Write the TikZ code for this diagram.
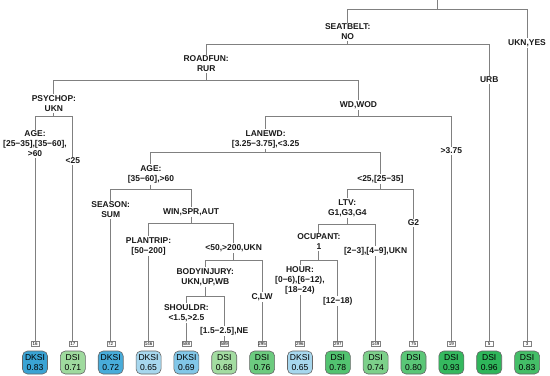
\documentclass[tikz,border=0pt]{standalone}
\usepackage{fontspec}
\setmainfont{Liberation Sans}
\definecolor{kA}{HTML}{3AA3D4}
\definecolor{kB}{HTML}{48ACDA}
\definecolor{kC}{HTML}{82C7E8}
\definecolor{kD}{HTML}{A7D7EE}
\definecolor{g68}{HTML}{A3DCA1}
\definecolor{g71}{HTML}{9FDA9E}
\definecolor{g74}{HTML}{7DD08A}
\definecolor{g76}{HTML}{6CCB7F}
\definecolor{g78}{HTML}{52C370}
\definecolor{g80}{HTML}{5AC677}
\definecolor{g83}{HTML}{44BE67}
\definecolor{g93}{HTML}{35B95F}
\definecolor{g96}{HTML}{2EB65A}
\begin{document}
\begin{tikzpicture}[x=1bp,y=-1bp,
  br/.style={draw=black!50, line width=0.9bp},
  lbl/.style={font=\fontsize{8.5}{10}\selectfont\bfseries, align=center, inner sep=1.2bp, text=black!90},
  num/.style={draw=gray, fill=white, font=\fontsize{4.5}{5}\selectfont, inner sep=0.6bp, minimum height=5.5bp, minimum width=8bp},
  leafbox/.style={draw=black!60, rounded corners=5bp, minimum width=25bp, minimum height=23bp, align=center, inner sep=0pt, font=\fontsize{8.6}{10.5}\selectfont, line width=0.6bp}]
\useasboundingbox (0,0) rectangle (550,375);

% internal split coordinates
\coordinate (top) at (437.4,0);
\coordinate (c1) at (437.4,9);   \coordinate (1l) at (347.7,9);   \coordinate (1r) at (527.05,9);
\coordinate (c2) at (347.7,44);  \coordinate (2l) at (206.2,44);  \coordinate (2r) at (489.2,44);
\coordinate (c4) at (206.2,80);  \coordinate (4l) at (53.9,80);   \coordinate (4r) at (358.5,80);
\coordinate (c8) at (53.9,116);  \coordinate (8l) at (35,116);    \coordinate (8r) at (72.85,116);
\coordinate (c9) at (358.5,116); \coordinate (9l) at (265.6,116); \coordinate (9r) at (451.35,116);
\coordinate (c18) at (265.6,152); \coordinate (18l) at (150.9,152); \coordinate (18r) at (380.4,152);
\coordinate (c36) at (150.9,189); \coordinate (36l) at (110.7,189); \coordinate (36r) at (191.1,189);
\coordinate (c37) at (380.4,189); \coordinate (37l) at (347.3,189); \coordinate (37r) at (413.5,189);
\coordinate (c73) at (191.1,223); \coordinate (73l) at (148.55,223); \coordinate (73r) at (233.7,223);
\coordinate (c74) at (347.3,224); \coordinate (74l) at (318.9,224); \coordinate (74r) at (375.65,224);
\coordinate (c147) at (233.7,260); \coordinate (147l) at (205.3,260); \coordinate (147r) at (262.1,260);
\coordinate (c148) at (318.9,260); \coordinate (148l) at (299.95,260); \coordinate (148r) at (337.8,260);
\coordinate (c294) at (205.3,296); \coordinate (294l) at (186.4,296); \coordinate (294r) at (224.25,296);

% branch labels
\node[lbl] (l2) at (347.7,32) {SEATBELT:\\NO};
\node[lbl] (l3) at (527.05,43) {UKN,YES};
\node[lbl] (l4) at (206.2,64) {ROADFUN:\\RUR};
\node[lbl] (l5) at (489.2,80) {URB};
\node[lbl] (l8) at (53.9,103.5) {PSYCHOP:\\UKN};
\node[lbl] (l9) at (358.5,105) {WD,WOD};
\node[lbl] (l16) at (35,144) {AGE:\\{}[25−35],[35−60],\\{}>60};
\node[lbl] (l17) at (72.85,161) {<25};
\node[lbl] (l18) at (265.6,139) {LANEWD:\\{}[3.25−3.75],<3.25};
\node[lbl] (l19) at (451.35,151) {>3.75};
\node[lbl] (l36) at (150.9,174.5) {AGE:\\{}[35−60],>60};
\node[lbl] (l37) at (380.4,179) {<25,[25−35]};
\node[lbl] (l72) at (110.7,210) {SEASON:\\SUM};
\node[lbl] (l73) at (191.1,212) {WIN,SPR,AUT};
\node[lbl] (l74) at (347.3,208) {LTV:\\G1,G3,G4};
\node[lbl] (l75) at (413.5,223) {G2};
\node[lbl] (l146) at (148.55,246) {PLANTRIP:\\{}[50−200]};
\node[lbl] (l147) at (233.7,248) {<50,>200,UKN};
\node[lbl] (l148) at (318.9,242) {OCUPANT:\\1};
\node[lbl] (l149) at (375.65,251) {[2−3],[4−9],UKN};
\node[lbl] (l294) at (205.3,277) {BODYINJURY:\\UKN,UP,WB};
\node[lbl] (l295) at (262.1,297) {C,LW};
\node[lbl] (l296) at (299.95,280) {HOUR:\\{}[0−6),[6−12),\\{}[18−24)};
\node[lbl] (l297) at (337.8,301) {[12−18)};
\node[lbl] (l588) at (186.4,313) {SHOULDR:\\{}<1.5,>2.5};
\node[lbl] (l589) at (224.25,331) {[1.5−2.5],NE};

% leaf number boxes
\node[num] (b16) at (35,343.5) {16};
\node[num] (b17) at (72.85,343.5) {17};
\node[num] (b72) at (110.7,343.5) {72};
\node[num] (b146) at (148.55,343.5) {146};
\node[num] (b588) at (186.4,343.5) {588};
\node[num] (b589) at (224.25,343.5) {589};
\node[num] (b295) at (262.1,343.5) {295};
\node[num] (b296) at (299.95,343.5) {296};
\node[num] (b297) at (337.8,343.5) {297};
\node[num] (b149) at (375.65,343.5) {149};
\node[num] (b75) at (413.5,343.5) {75};
\node[num] (b19) at (451.35,343.5) {19};
\node[num] (b5) at (489.2,343.5) {5};
\node[num] (b3) at (527.05,343.5) {3};

% leaves
\node[leafbox, fill=kA] (f16) at (35,362.5) {DKSI\\0.83};
\node[leafbox, fill=g71] (f17) at (72.85,362.5) {DSI\\0.71};
\node[leafbox, fill=kB] (f72) at (110.7,362.5) {DKSI\\0.72};
\node[leafbox, fill=kD] (f146) at (148.55,362.5) {DKSI\\0.65};
\node[leafbox, fill=kC] (f588) at (186.4,362.5) {DKSI\\0.69};
\node[leafbox, fill=g68] (f589) at (224.25,362.5) {DSI\\0.68};
\node[leafbox, fill=g76] (f295) at (262.1,362.5) {DSI\\0.76};
\node[leafbox, fill=kD] (f296) at (299.95,362.5) {DKSI\\0.65};
\node[leafbox, fill=g78] (f297) at (337.8,362.5) {DSI\\0.78};
\node[leafbox, fill=g74] (f149) at (375.65,362.5) {DSI\\0.74};
\node[leafbox, fill=g80] (f75) at (413.5,362.5) {DSI\\0.80};
\node[leafbox, fill=g93] (f19) at (451.35,362.5) {DSI\\0.93};
\node[leafbox, fill=g96] (f5) at (489.2,362.5) {DSI\\0.96};
\node[leafbox, fill=g83] (f3) at (527.05,362.5) {DSI\\0.83};

% branches
\draw[br] (top) -- (c1);
\draw[br] (1l) -- (1r);
\draw[br] (1l) -- (l2.north); \draw[br] (l2.south) -- (c2);
\draw[br] (1r) -- (l3.north); \draw[br] (l3.south) -- (b3.north);
\draw[br] (2l) -- (2r);
\draw[br] (2l) -- (l4.north); \draw[br] (l4.south) -- (c4);
\draw[br] (2r) -- (l5.north); \draw[br] (l5.south) -- (b5.north);
\draw[br] (4l) -- (4r);
\draw[br] (4l) -- (l8.north); \draw[br] (l8.south) -- (c8);
\draw[br] (4r) -- (l9.north); \draw[br] (l9.south) -- (c9);
\draw[br] (8l) -- (8r);
\draw[br] (8l) -- (l16.north); \draw[br] (l16.south) -- (b16.north);
\draw[br] (8r) -- (l17.north); \draw[br] (l17.south) -- (b17.north);
\draw[br] (9l) -- (9r);
\draw[br] (9l) -- (l18.north); \draw[br] (l18.south) -- (c18);
\draw[br] (9r) -- (l19.north); \draw[br] (l19.south) -- (b19.north);
\draw[br] (18l) -- (18r);
\draw[br] (18l) -- (l36.north); \draw[br] (l36.south) -- (c36);
\draw[br] (18r) -- (l37.north); \draw[br] (l37.south) -- (c37);
\draw[br] (36l) -- (36r);
\draw[br] (36l) -- (l72.north); \draw[br] (l72.south) -- (b72.north);
\draw[br] (36r) -- (l73.north); \draw[br] (l73.south) -- (c73);
\draw[br] (37l) -- (37r);
\draw[br] (37l) -- (l74.north); \draw[br] (l74.south) -- (c74);
\draw[br] (37r) -- (l75.north); \draw[br] (l75.south) -- (b75.north);
\draw[br] (73l) -- (73r);
\draw[br] (73l) -- (l146.north); \draw[br] (l146.south) -- (b146.north);
\draw[br] (73r) -- (l147.north); \draw[br] (l147.south) -- (c147);
\draw[br] (74l) -- (74r);
\draw[br] (74l) -- (l148.north); \draw[br] (l148.south) -- (c148);
\draw[br] (74r) -- (l149.north); \draw[br] (l149.south) -- (b149.north);
\draw[br] (147l) -- (147r);
\draw[br] (147l) -- (l294.north); \draw[br] (l294.south) -- (c294);
\draw[br] (147r) -- (l295.north); \draw[br] (l295.south) -- (b295.north);
\draw[br] (148l) -- (148r);
\draw[br] (148l) -- (l296.north); \draw[br] (l296.south) -- (b296.north);
\draw[br] (148r) -- (l297.north); \draw[br] (l297.south) -- (b297.north);
\draw[br] (294l) -- (294r);
\draw[br] (294l) -- (l588.north); \draw[br] (l588.south) -- (b588.north);
\draw[br] (294r) -- (l589.north); \draw[br] (l589.south) -- (b589.north);
\end{tikzpicture}
\end{document}
